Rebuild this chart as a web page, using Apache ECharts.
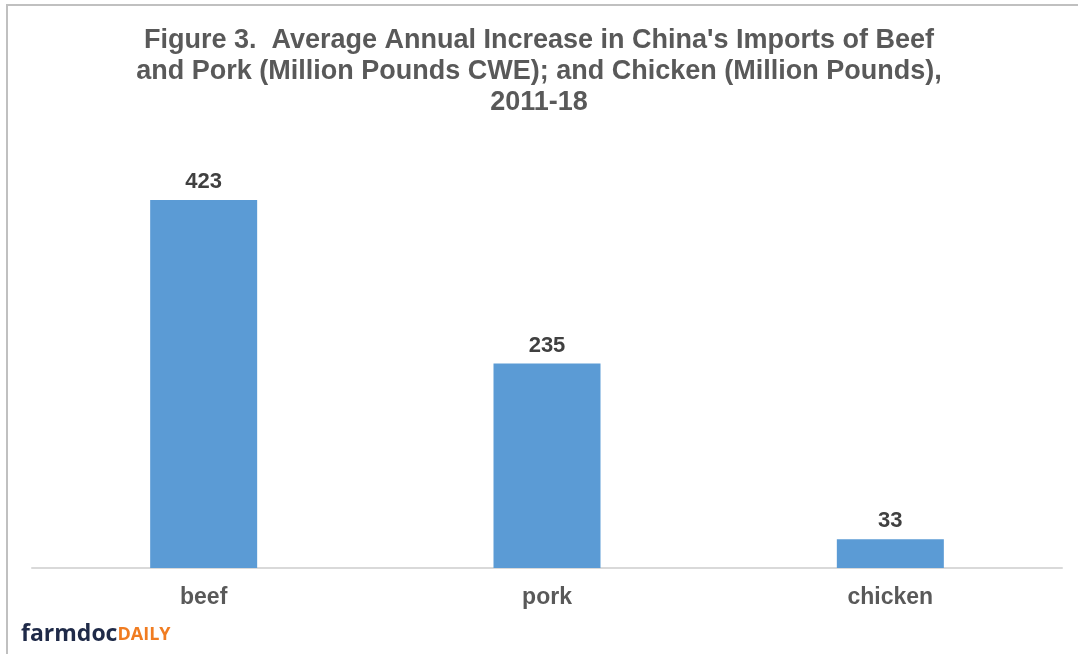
<!DOCTYPE html>
<html>
<head>
<meta charset="utf-8">
<script src="https://cdn.jsdelivr.net/npm/echarts@6/dist/echarts.min.js"></script>
<style>
html,body{margin:0;padding:0;background:#fff;}
#c{width:1078px;height:654px;}
</style>
</head>
<body>
<div id="c"></div>
<script>
const titleText = "Figure 3.  Average Annual Increase in China's Imports of Beef\nand Pork (Million Pounds CWE); and Chicken (Million Pounds),\n2011-18";
const categories = ["beef", "pork", "chicken"];
const values = [423, 235, 33];

const chart = echarts.init(document.getElementById('c'));
chart.setOption({
  backgroundColor: '#ffffff',
  animation: false,
  title: {
    text: titleText,
    left: 'center',
    top: 20,
    textStyle: {
      fontFamily: '"Liberation Sans Narrow", "Arial Narrow", "Liberation Sans", sans-serif',
      fontWeight: 'bold',
      fontSize: 27,
      lineHeight: 31,
      color: '#595959'
    }
  },
  grid: { left: 32, right: 16, top: 133, bottom: 86 },
  xAxis: {
    type: 'category',
    data: categories,
    axisLine: { show: true, lineStyle: { color: '#d9d9d9', width: 2 } },
    axisTick: { show: false },
    axisLabel: {
      margin: 18,
      fontFamily: '"Liberation Sans", Arial, sans-serif',
      fontWeight: 'bold',
      fontSize: 23,
      color: '#595959'
    }
  },
  yAxis: {
    type: 'value',
    min: 0,
    max: 500,
    show: false,
    splitLine: { show: false }
  },
  series: [{
    type: 'bar',
    data: values,
    barWidth: 107,
    itemStyle: { color: '#5b9bd5' },
    label: {
      show: true,
      position: 'top',
      distance: 7,
      fontFamily: '"Liberation Sans", Arial, sans-serif',
      fontWeight: 'bold',
      fontSize: 22,
      color: '#404040'
    }
  }],
  graphic: [
    { type: 'line', shape: { x1: 7, y1: 5, x2: 1078, y2: 5 }, style: { stroke: '#c0c0c0', lineWidth: 2 } },
    { type: 'line', shape: { x1: 7, y1: 4, x2: 7, y2: 654 }, style: { stroke: '#c0c0c0', lineWidth: 2 } },
    {
      type: 'text',
      left: 21,
      top: 623,
      style: {
        text: '{a|farmdoc}{b|DAILY}',
        rich: {
          a: { fontFamily: '"Open Sans", "Liberation Sans", sans-serif', fontWeight: 'bold', fontSize: 23, fill: '#1f2a48' },
          b: { fontFamily: '"Open Sans", "Liberation Sans", sans-serif', fontWeight: 'bold', fontSize: 18, fill: '#f07c21' }
        }
      }
    }
  ]
});
</script>
</body>
</html>
